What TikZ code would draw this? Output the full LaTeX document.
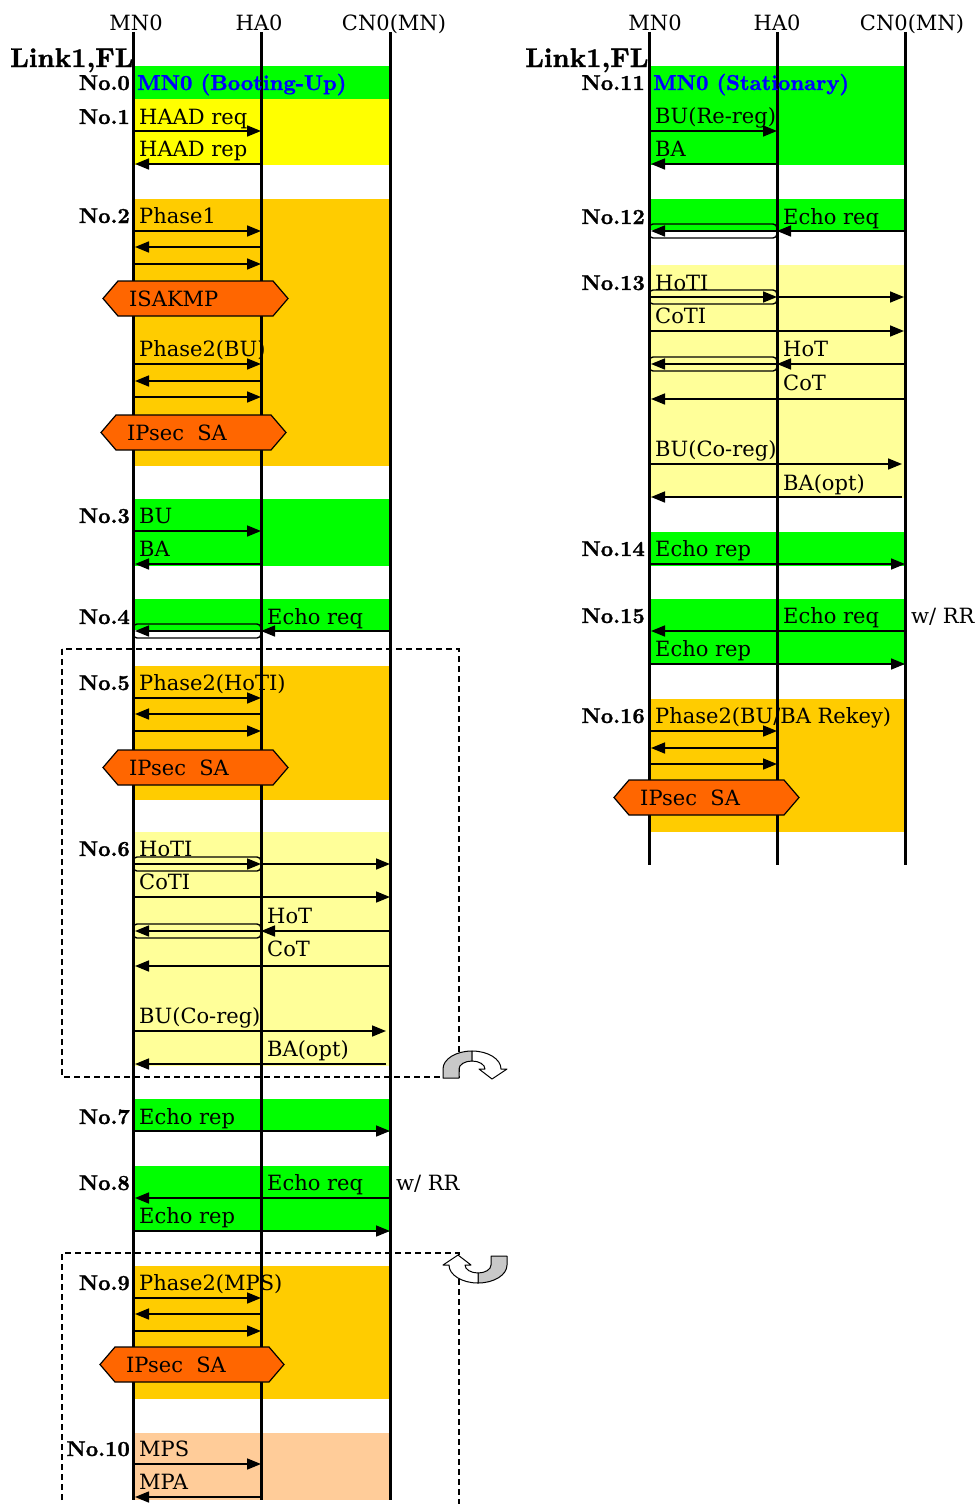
\documentclass[tikz,border=0pt]{standalone}
\usepackage{fontspec}
\newfontfamily\dvs{DejaVu Serif}
\newfontfamily\lmheavy{lmroman10-bold.otf}[FakeBold=1.3]
\usetikzlibrary{arrows.meta}
\definecolor{cgreen}{HTML}{00FF00}
\definecolor{cyel}{HTML}{FFFF00}
\definecolor{corange}{HTML}{FFCC00}
\definecolor{clyel}{HTML}{FFFF99}
\definecolor{cpeach}{HTML}{FFCC99}
\definecolor{chex}{HTML}{FF6600}
\definecolor{cgray}{HTML}{C8C8C8}
\newcommand\msg[4]{\coordinate (#1a) at (#3,#2); \coordinate (#1b) at (#4,#2); \draw[msg] (#1a) -- (#1b);}
\newcommand\lab[4]{\node[lbl] (#1) at (#2,#3+8) {#4};}
\newcommand\numl[4]{\node[numst] (#1) at (#2,#3+8) {#4};}
\newcommand\hexa[4]{\draw[hexst] (#1,{(#3+#4)/2}) -- (#1+15,#3) -- (#2-15,#3) -- (#2,{(#3+#4)/2}) -- (#2-15,#4) -- (#1+15,#4) -- cycle;}
\newcommand\turnarrow{%
  \draw[turnst,fill=cgray] (443,1078) -- (443,1069) arc[start angle=180,end angle=90,x radius=29pt,y radius=18pt] -- (472,1061) arc[start angle=90,end angle=180,x radius=13pt,y radius=8pt] -- (459,1078) -- cycle;
  \draw[turnst,fill=white] (472,1051) arc[start angle=90,end angle=0,x radius=29pt,y radius=18pt] -- (507,1069) -- (492,1079) -- (479,1069) -- (485,1069) arc[start angle=0,end angle=90,x radius=13pt,y radius=8pt] -- cycle;}
\begin{document}
\begin{tikzpicture}[x=1pt,y=-1pt,
  lifeline/.style={line width=3pt},
  msg/.style={line width=1.6pt,-{Triangle[length=14pt,width=11pt]}},
  lbl/.style={anchor=base west,inner sep=0pt,font=\dvs\fontsize{21}{26}\selectfont},
  hdr/.style={anchor=base,inner sep=0pt,font=\dvs\fontsize{21}{26}\selectfont},
  numst/.style={anchor=base east,inner sep=0pt,font=\lmheavy\fontsize{21.5}{26}\selectfont},
  ttl/.style={anchor=base west,inner sep=0pt,font=\lmheavy\fontsize{27}{32}\selectfont},
  blue lbl/.style={anchor=base west,inner sep=0pt,font=\lmheavy\fontsize{21.5}{26}\selectfont,text=blue},
  tunnel/.style={draw,line width=1.4pt,rounded corners=4pt},
  hexst/.style={draw,line width=1.2pt,fill=chex},
  dashst/.style={line width=1.5pt,dash pattern=on 6pt off 4pt},
  turnst/.style={line width=1pt,line join=round}]
\useasboundingbox (0,0) rectangle (978,1504);
% ---------- bars left
\fill[cgreen] (133,66) rectangle (390,99);
\fill[cyel] (133,99) rectangle (390,165);
\fill[corange] (133,199) rectangle (390,466);
\fill[cgreen] (133,499) rectangle (390,566);
\fill[cgreen] (133,599) rectangle (390,630);
\fill[corange] (133,666) rectangle (390,800);
\fill[clyel] (133,832) rectangle (390,1066);
\fill[cgreen] (133,1099) rectangle (390,1132);
\fill[cgreen] (133,1166) rectangle (390,1232);
\fill[corange] (133,1266) rectangle (390,1399);
\fill[cpeach] (133,1433) rectangle (390,1500);
% ---------- bars right
\fill[cgreen] (649,66) rectangle (905,165);
\fill[cgreen] (649,199) rectangle (905,230);
\fill[clyel] (649,265) rectangle (905,498);
\fill[cgreen] (649,532) rectangle (905,566);
\fill[cgreen] (649,599) rectangle (905,665);
\fill[corange] (649,699) rectangle (905,832);
% ---------- dashed frames
\coordinate (d1a) at (62,649); \coordinate (d1b) at (459,1077);
\draw[dashst] (d1a) rectangle (d1b);
\coordinate (d2a) at (62,1510); \coordinate (d2b) at (62,1253); \coordinate (d2c) at (459,1253); \coordinate (d2d) at (459,1510);
\draw[dashst] (d2a) -- (d2b) -- (d2c) -- (d2d);
% ---------- lifelines
\coordinate (mnT) at (133,32); \coordinate (mnB) at (133,1500);
\coordinate (haT) at (261,32); \coordinate (haB) at (261,1500);
\coordinate (cnT) at (390,32); \coordinate (cnB) at (390,1500);
\coordinate (rmnT) at (649,32); \coordinate (rmnB) at (649,865);
\coordinate (rhaT) at (777,32); \coordinate (rhaB) at (777,865);
\coordinate (rcnT) at (905,32); \coordinate (rcnB) at (905,865);
\draw[lifeline] (mnT) -- (mnB); \draw[lifeline] (haT) -- (haB); \draw[lifeline] (cnT) -- (cnB);
\draw[lifeline] (rmnT) -- (rmnB); \draw[lifeline] (rhaT) -- (rhaB); \draw[lifeline] (rcnT) -- (rcnB);
% ---------- headers
\node[hdr] (h1) at (136,31) {MN0};
\node[hdr] (h2) at (259,31) {HA0};
\node[hdr] (h3) at (394,31) {CN0(MN)};
\node[hdr] (h4) at (655,31) {MN0};
\node[hdr] (h5) at (777,31) {HA0};
\node[hdr] (h6) at (912,31) {CN0(MN)};
\node[ttl] (t1) at (10,67) {Link1,FL};
\node[ttl] (t2) at (525,67) {Link1,FL};
% ---------- tunnels left
\coordinate (tu1a) at (133,624); \coordinate (tu1b) at (261,638); \draw[tunnel] (tu1a) rectangle (tu1b);
\coordinate (tu2a) at (133,857); \coordinate (tu2b) at (261,871); \draw[tunnel] (tu2a) rectangle (tu2b);
\coordinate (tu3a) at (133,924); \coordinate (tu3b) at (261,938); \draw[tunnel] (tu3a) rectangle (tu3b);
% ---------- tunnels right
\coordinate (tu4a) at (649,224); \coordinate (tu4b) at (777,238); \draw[tunnel] (tu4a) rectangle (tu4b);
\coordinate (tu5a) at (649,290); \coordinate (tu5b) at (777,304); \draw[tunnel] (tu5a) rectangle (tu5b);
\coordinate (tu6a) at (649,357); \coordinate (tu6b) at (777,371); \draw[tunnel] (tu6a) rectangle (tu6b);
% ---------- messages left
\msg{m1}{131}{133}{261} \msg{m2}{164}{261}{135}
\msg{m3}{231}{133}{261} \msg{m4}{247}{261}{135} \msg{m5}{264}{133}{261}
\msg{m6}{364}{133}{261} \msg{m7}{381}{261}{135} \msg{m8}{397}{133}{261}
\msg{m9}{531}{133}{261} \msg{m10}{564}{261}{135}
\msg{m11}{631}{390}{261} \msg{m12}{631}{261}{135}
\msg{m13}{698}{133}{261} \msg{m14}{714}{261}{135} \msg{m15}{731}{133}{261}
\msg{m16}{864}{133}{261} \msg{m17}{864}{261}{390}
\msg{m18}{897}{133}{390}
\msg{m19}{931}{390}{261} \msg{m20}{931}{261}{135}
\msg{m21}{966}{390}{135}
\msg{m22}{1031}{133}{386} \msg{m23}{1064}{386}{135}
\msg{m24}{1131}{133}{390}
\msg{m25}{1198}{390}{135} \msg{m26}{1231}{133}{390}
\msg{m27}{1298}{133}{261} \msg{m28}{1314}{261}{135} \msg{m29}{1331}{133}{261}
\msg{m30}{1464}{133}{261} \msg{m31}{1497}{261}{135}
% ---------- messages right
\msg{r1}{131}{649}{777} \msg{r2}{164}{777}{651}
\msg{r3}{231}{905}{777} \msg{r4}{231}{777}{651}
\msg{r5}{297}{649}{777} \msg{r6}{297}{777}{904}
\msg{r7}{331}{649}{904}
\msg{r8}{364}{905}{777} \msg{r9}{364}{777}{651}
\msg{r10}{399}{905}{651}
\msg{r11}{464}{649}{902} \msg{r12}{497}{902}{651}
\msg{r13}{564}{649}{905}
\msg{r14}{631}{905}{651} \msg{r15}{664}{649}{905}
\msg{r16}{731}{649}{777} \msg{r17}{748}{777}{651} \msg{r18}{764}{649}{777}
% ---------- hexagons
\hexa{103}{288}{281}{316}
\hexa{101}{286}{415}{450}
\hexa{103}{288}{750}{785}
\hexa{100}{284}{1347}{1382}
\hexa{614}{799}{780}{815}
\lab{x1}{129}{298}{ISAKMP}
\lab{x2}{127}{432}{IPsec\ \ SA}
\lab{x3}{129}{767}{IPsec\ \ SA}
\lab{x4}{126}{1364}{IPsec\ \ SA}
\lab{x5}{640}{797}{IPsec\ \ SA}
% ---------- turn arrows
\turnarrow
\begin{scope}[rotate around={180:(475,1167)}]
\turnarrow
\end{scope}
% ---------- numbers
\numl{n0}{130}{82}{No.0}
\numl{n1}{130}{116}{No.1}
\numl{n2}{130}{215}{No.2}
\numl{n3}{130}{515}{No.3}
\numl{n4}{130}{616}{No.4}
\numl{n5}{130}{682}{No.5}
\numl{n6}{130}{848}{No.6}
\numl{n7}{130}{1116}{No.7}
\numl{n8}{130}{1182}{No.8}
\numl{n9}{130}{1282}{No.9}
\numl{n10}{130}{1448}{No.10}
\numl{n11}{645}{82}{No.11}
\numl{n12}{645}{216}{No.12}
\numl{n13}{645}{282}{No.13}
\numl{n14}{645}{548}{No.14}
\numl{n15}{645}{615}{No.15}
\numl{n16}{645}{715}{No.16}
% ---------- labels left
\node[blue lbl] (b0) at (137,90) {MN0 (Booting-Up)};
\lab{l1}{139}{116}{HAAD req}
\lab{l2}{139}{148}{HAAD rep}
\lab{l3}{139}{215}{Phase1}
\lab{l4}{139}{348}{Phase2(BU)}
\lab{l5}{139}{515}{BU}
\lab{l6}{139}{548}{BA}
\lab{l7}{267}{616}{Echo req}
\lab{l8}{139}{682}{Phase2(HoTI)}
\lab{l9}{139}{848}{HoTI}
\lab{l10}{139}{881}{CoTI}
\lab{l11}{267}{915}{HoT}
\lab{l12}{267}{948}{CoT}
\lab{l13}{139}{1015}{BU(Co-reg)}
\lab{l14}{267}{1048}{BA(opt)}
\lab{l15}{139}{1116}{Echo rep}
\lab{l16}{267}{1182}{Echo req}
\lab{l17}{396}{1182}{w/ RR}
\lab{l18}{139}{1215}{Echo rep}
\lab{l19}{139}{1282}{Phase2(MPS)}
\lab{l20}{139}{1448}{MPS}
\lab{l21}{139}{1481}{MPA}
% ---------- labels right
\node[blue lbl] (b1) at (653,90) {MN0 (Stationary)};
\lab{q1}{655}{115}{BU(Re-reg)}
\lab{q2}{655}{148}{BA}
\lab{q3}{783}{216}{Echo req}
\lab{q4}{655}{282}{HoTI}
\lab{q5}{655}{315}{CoTI}
\lab{q6}{783}{348}{HoT}
\lab{q7}{783}{382}{CoT}
\lab{q8}{655}{448}{BU(Co-reg)}
\lab{q9}{783}{482}{BA(opt)}
\lab{q10}{655}{548}{Echo rep}
\lab{q11}{783}{615}{Echo req}
\lab{q12}{911}{615}{w/ RR}
\lab{q13}{655}{648}{Echo rep}
\lab{q14}{655}{715}{Phase2(BU/BA Rekey)}
\end{tikzpicture}
\end{document}
